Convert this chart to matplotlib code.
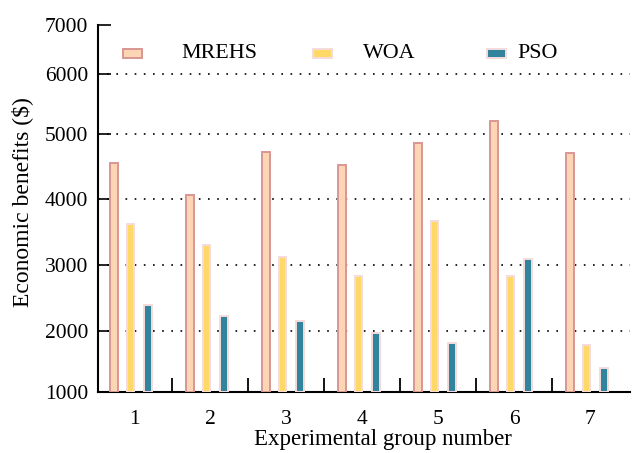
import numpy as np
import matplotlib
matplotlib.use("Agg")
import matplotlib.pyplot as plt
from matplotlib.patches import Rectangle

plt.rcParams['font.family'] = ['Liberation Serif', 'DejaVu Serif']

groups = [1, 2, 3, 4, 5, 6, 7]
series_names = ["MREHS", "WOA", "PSO"]
mrehs = [4560, 4060, 4730, 4520, 4860, 5220, 4710]
woa = [3620, 3300, 3130, 2830, 3670, 2830, 1770]
pso = [2400, 2230, 2160, 1970, 1810, 3090, 1400]
ytick_vals = [1000, 2000, 3000, 4000, 5000, 6000, 7000]
# axis in the reference is not evenly spaced: relative heights of tick marks
ytick_heights = [0, 60.7, 126.7, 192.7, 257.4, 317.7, 366.7]

face = ["#FCD5B5", "#FFD966", "#31849B"]
edge = ["#D99694", "#F5DCDC", "#F5DCDC"]
offsets = [-0.27, -0.05, 0.175]
width = 0.1

def fwd(v):
    return np.interp(v, ytick_vals, ytick_heights)

def inv(h):
    return np.interp(h, ytick_heights, ytick_vals)

fig = plt.figure(figsize=(6.33, 4.53), dpi=100)
ax = fig.add_axes([98/633, 1-392/453, (630-98)/633, (392-25)/453])
ax.set_yscale('function', functions=(fwd, inv))
ax.set_ylim(1000, 7000)
ax.set_xlim(0.52, 7.52)

x = np.array(groups, dtype=float)
for vals, fc, ec, off in zip([mrehs, woa, pso], face, edge, offsets):
    ax.bar(x + off, np.array(vals) - 1000, width=width, bottom=1000,
           color=fc, edgecolor=ec, linewidth=1.4, zorder=3)

for v in ytick_vals[1:-1]:
    ax.axhline(v, color='black', linestyle=(0, (1, 4.5)), linewidth=1.2, zorder=1)

for s in ['top', 'right']:
    ax.spines[s].set_visible(False)
for s in ['left', 'bottom']:
    ax.spines[s].set_linewidth(1.5)

ax.set_yticks(ytick_vals)
ax.set_yticklabels([str(v) for v in ytick_vals])
ax.yaxis.set_minor_locator(matplotlib.ticker.NullLocator())
ax.tick_params(axis='y', direction='in', length=9, width=1.2, labelsize=15.5, pad=7)
ax.set_xticks(groups)
ax.set_xticklabels([str(g) for g in groups])
ax.set_xticks([g + 0.5 for g in groups[:-1]], minor=True)
ax.tick_params(axis='x', which='major', length=0, labelsize=15.5, pad=13)
ax.tick_params(axis='x', which='minor', direction='in', length=10, width=1.3)

ax.set_xlabel("Experimental group number", fontsize=16.5)
ax.xaxis.set_label_coords((382.5-98)/532, -(440-392)/367)
ax.xaxis.label.set_va('center')
ax.set_ylabel("Economic benefits ($)", fontsize=17)
ax.yaxis.set_label_coords(-(98-22)/532, (392-202.5)/367)
ax.yaxis.label.set_va('center')

# legend (manual, matching reference spacing)
patch_x = [122.7, 312.7, 486.7]
text_x = [181.7, 362.7, 517.7]
for name, fc, ec, px, tx in zip(series_names, face, edge, patch_x, text_x):
    fig.add_artist(Rectangle((px/633, 1-58/453), 19/633, 9/453, transform=fig.transFigure,
                             facecolor=fc, edgecolor=ec, linewidth=1.4))
    fig.text(tx/633, 1-54/453, name, fontsize=15.8, va='center', ha='left')

fig.savefig("out.png", dpi=100)
